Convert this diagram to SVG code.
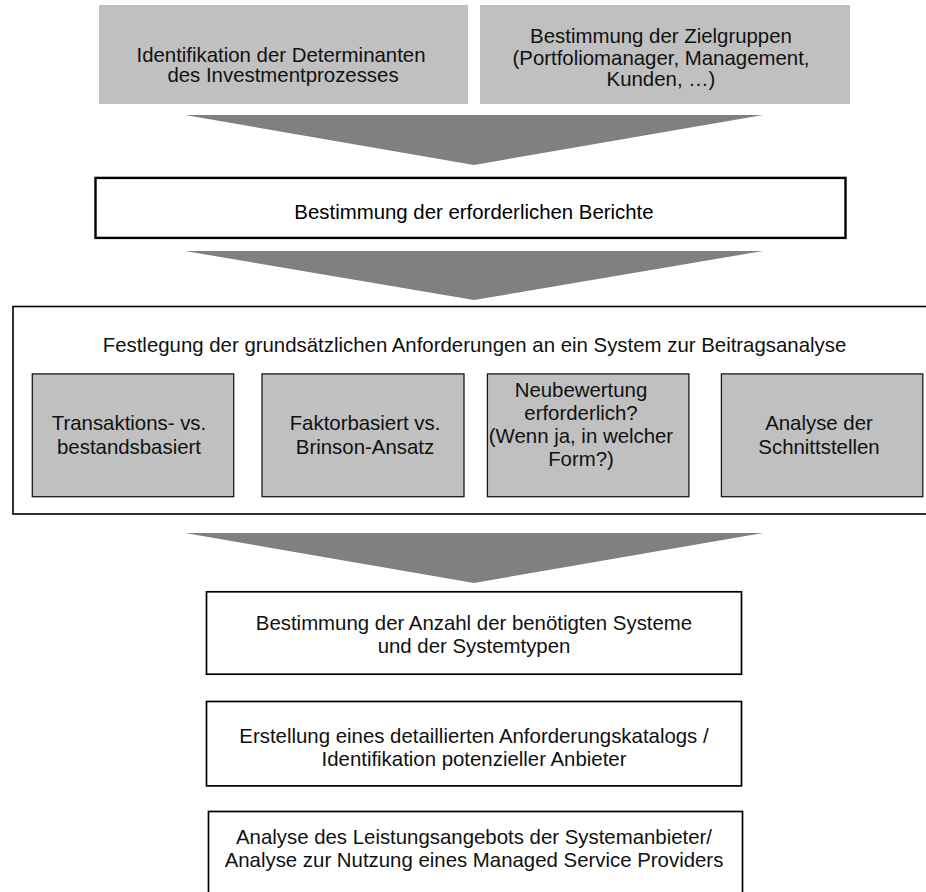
<svg xmlns="http://www.w3.org/2000/svg" width="926" height="892" viewBox="0 0 926 892">
<style>
.t{font-family:"Liberation Sans",Arial,sans-serif;font-size:20.4px;fill:#111;text-anchor:middle}
.gray{fill:#c0c0c0}
.gbox{fill:#c0c0c0;stroke:#1a1a1a;stroke-width:1.3}
.wbox{fill:#fff;stroke:#000;stroke-width:1.7}
.arrow{fill:#808080}
</style>
<rect width="926" height="892" fill="#fff"/>
<g id="connectors">
<polygon class="arrow" points="185,115 763,115 474,165"/>
<polygon class="arrow" points="185,251 763,251 474,300"/>
<polygon class="arrow" points="185,533 763,533 474,583"/>
</g>
<g id="n_determinanten">
<rect class="gray" x="99" y="5" width="369" height="99"/>
<text class="t" x="281" y="62">Identifikation der Determinanten</text>
<text class="t" x="283" y="82">des Investmentprozesses</text>
</g>
<g id="n_zielgruppen">
<rect class="gray" x="480" y="5" width="370" height="99"/>
<text class="t" x="661" y="43">Bestimmung der Zielgruppen</text>
<text class="t" x="661" y="64.5">(Portfoliomanager, Management,</text>
<text class="t" x="661" y="86">Kunden, …)</text>
</g>
<g id="n_berichte">
<rect x="95.5" y="177.9" width="750" height="60" fill="#fff" stroke="#000" stroke-width="2.4"/>
<text class="t" x="474" y="219" style="fill:#000">Bestimmung der erforderlichen Berichte</text>
</g>
<g id="n_festlegung">
<rect class="wbox" x="13" y="306.5" width="930" height="207.5" style="stroke-width:1.6"/>
<text class="t" x="474.5" y="351.7">Festlegung der grundsätzlichen Anforderungen an ein System zur Beitragsanalyse</text>
</g>
<g id="n_transaktion">
<rect class="gbox" x="32.3" y="373.9" width="201.4" height="122.8"/>
<text class="t" x="129" y="430">Transaktions- vs.</text>
<text class="t" x="129" y="454">bestandsbasiert</text>
</g>
<g id="n_faktor">
<rect class="gbox" x="262" y="373.9" width="202" height="122.8"/>
<text class="t" x="365" y="430">Faktorbasiert vs.</text>
<text class="t" x="365" y="454">Brinson-Ansatz</text>
</g>
<g id="n_neubewertung">
<rect class="gbox" x="487.4" y="373.9" width="201.5" height="122.8"/>
<text class="t" x="581" y="397">Neubewertung</text>
<text class="t" x="581" y="420">erforderlich?</text>
<text class="t" x="581" y="443">(Wenn ja, in welcher</text>
<text class="t" x="581" y="466">Form?)</text>
</g>
<g id="n_schnittstellen">
<rect class="gbox" x="721.4" y="373.9" width="201.4" height="122.8"/>
<text class="t" x="819" y="430">Analyse der</text>
<text class="t" x="819" y="454">Schnittstellen</text>
</g>
<g id="n_anzahl">
<rect class="wbox" x="206.5" y="591.8" width="535" height="82.4"/>
<text class="t" x="474" y="630">Bestimmung der Anzahl der benötigten Systeme</text>
<text class="t" x="474" y="653">und der Systemtypen</text>
</g>
<g id="n_katalog">
<rect class="wbox" x="206.5" y="701.5" width="535" height="84.4"/>
<text class="t" x="474" y="743">Erstellung eines detaillierten Anforderungskatalogs /</text>
<text class="t" x="474" y="766">Identifikation potenzieller Anbieter</text>
</g>
<g id="n_anbieter">
<rect class="wbox" x="208.5" y="811.5" width="534" height="100"/>
<text class="t" x="474" y="844">Analyse des Leistungsangebots der Systemanbieter/</text>
<text class="t" x="474" y="867">Analyse zur Nutzung eines Managed Service Providers</text>
</g>
</svg>
